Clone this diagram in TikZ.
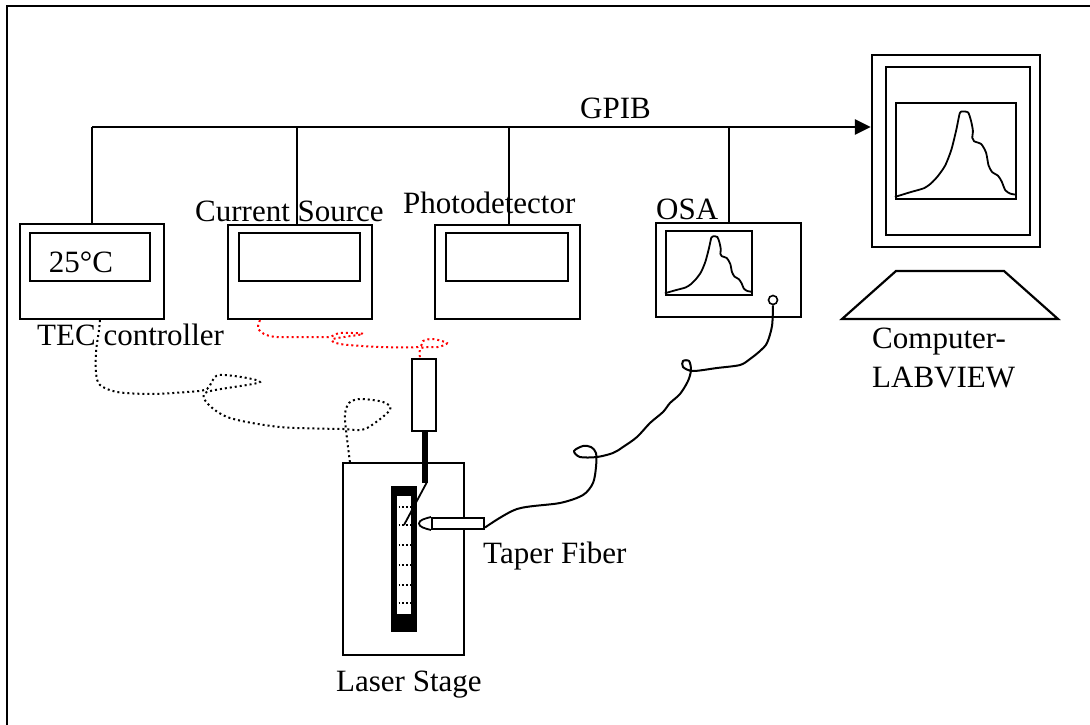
\documentclass[tikz,border=0pt]{standalone}
\usepackage{fontspec}
\setmainfont{Liberation Serif}
\usetikzlibrary{arrows.meta}
\begin{document}
\begin{tikzpicture}[x=1pt,y=-1pt,
  box/.style={draw,rectangle,line width=2.2pt,inner sep=0pt,fill=white},
  lbl/.style={inner sep=0pt,font=\fontsize{31}{37}\selectfont},
  bus/.style={line width=2.8pt},
  drop/.style={line width=1.8pt},
  cable/.style={line width=2pt,line join=round},
  tecwire/.style={line width=2pt,dash pattern=on 2pt off 3pt},
  ldwire/.style={tecwire,red},
  trace/.style={line width=1.8pt,line join=round}]

\useasboundingbox (0,0) rectangle (1090,725);
\clip (0,0) rectangle (1090,725);
\draw[line width=2.2pt] (7,6) rectangle (1110,745);

% instruments on the bench
\node[box,minimum width=144,minimum height=95] (tec) at (92,271.5) {};
\node[box,minimum width=120,minimum height=48] (tecscr) at (90,257) {};
\node[lbl,anchor=base] (tecval) at (81,272) {25°C};
\node[lbl,anchor=base west] (teclbl) at (37,345) {TEC controller};

\node[box,minimum width=144,minimum height=94] (cs) at (300,272) {};
\node[box,minimum width=121,minimum height=48] (csscr) at (299.5,257) {};
\node[lbl,anchor=base west] (cslbl) at (195,221) {Current Source};

\node[box,minimum width=145,minimum height=94] (pd) at (507.5,272) {};
\node[box,minimum width=122,minimum height=48] (pdscr) at (507,257) {};
\node[lbl,anchor=base west] (pdlbl) at (403,213) {Photodetector};

\node[box,minimum width=145,minimum height=94] (osa) at (728.5,270) {};
\node[box,minimum width=86,minimum height=64] (osascr) at (709,263) {};
\node[circle,draw,line width=1.6pt,fill=white,inner sep=0pt,minimum size=9] (knob) at (773,300) {};
\node[lbl,anchor=base west] (osalbl) at (656,219) {OSA};

% computer
\node[box,minimum width=168,minimum height=192] (pc) at (956,151) {};
\node[box,minimum width=144,minimum height=168] (pcframe) at (958,151) {};
\node[box,minimum width=120,minimum height=96] (pcscr) at (956,151) {};
\draw[line width=2.2pt,line join=miter] (896,271) -- (1004,271) -- (1058,319) -- (842,319) -- cycle;
\node[lbl,anchor=base west] (pclbl1) at (872,348) {Computer-};
\node[lbl,anchor=base west] (pclbl2) at (872,387) {LABVIEW};

% spectra on the two screens
\foreach \scr/\w/\h in {pcscr/120/96, osascr/86/64}{
  \begin{scope}[shift={(\scr.north west)},xscale=\w,yscale=\h]
    \draw[trace] plot[smooth,tension=0.4] coordinates {
      (0,0.99) (0.13,0.94) (0.24,0.90) (0.30,0.85) (0.36,0.77)
      (0.42,0.66) (0.47,0.50) (0.51,0.30) (0.54,0.12) (0.56,0.10)
      (0.61,0.11) (0.635,0.20) (0.65,0.30) (0.645,0.375) (0.66,0.41)
      (0.72,0.44) (0.76,0.53) (0.78,0.66) (0.81,0.73) (0.86,0.77)
      (0.89,0.83) (0.92,0.92) (0.96,0.955) (1.0,0.965)};
  \end{scope}
}

% GPIB bus
\coordinate (busL) at (92,127);
\draw[bus,-{Triangle[length=16pt,width=15pt]}] (busL) -- (pc.west |- busL);
\node[lbl,anchor=base west] (gpib) at (580,118) {GPIB};
\draw[drop] (tec.north) -- (tec.north |- busL);
\draw[drop] ([xshift=-3]cs.north) -- ([xshift=-3]cs.north |- busL);
\draw[drop] ([xshift=1.5]pd.north) -- ([xshift=1.5]pd.north |- busL);
\draw[drop] ([xshift=0.5]osa.north) -- ([xshift=0.5]osa.north |- busL);

% laser stage
\node[draw,line width=2.2pt,inner sep=0pt,minimum width=121,minimum height=192] (stage) at (403.5,559) {};
\node[lbl,anchor=base west] (stagelbl) at (336,691) {Laser Stage};
\node[box,minimum width=24,minimum height=72] (mount) at (424,395) {};
\fill ([xshift=-2]mount.south) rectangle ++(6,51);
\fill (391,486) rectangle (417,632);
\fill[white] (397,496) rectangle (411,614);
\foreach \yy in {507,525,545,565,585,603}
  \draw[line width=1.5pt,dash pattern=on 1.5pt off 2.4pt] (398.5,\yy) -- (411,\yy);
\draw[line width=1.8pt] (427,482) -- (404,525);

% taper fibre
\node[box,line width=2pt,minimum width=52,minimum height=11] (taper) at (458,523.5) {};
\draw[line width=1.8pt] (taper.north west) .. controls (425,518.5) and (419,520) .. (419,523.5)
  .. controls (419,527) and (425,528.5) .. (taper.south west);
\node[lbl,anchor=base west] (taperlbl) at (483,563) {Taper Fiber};

% fibre to the OSA
\draw[cable] plot[smooth,tension=0.5] coordinates {
  ([yshift=-4]taper.east) (517,509) (560,503) (583,495) (593,483) (596,467)
  (596,453) (591,447) (583,446) (574,451) (580,457) (597,457) (613,453)
  (623,447) (637,437) (650,423) (663,412) (670,403) (680,394) (688,381)
  (691,370) (689,361) (683,361) (683,367) (693,371) (717,368) (740,365)
  (750,359) (760,351) (767,343) (772,326) (knob.south)};

% TEC wire to the stage
\draw[tecwire] plot[smooth,tension=0.5] coordinates {
  ([xshift=8]tec.south) (99,330) (96,352) (96,373) (100,385) (117,392)
  (150,394) (187,392) (207,389) (219,375) (260,382) (207,392) (208,404)
  (230,418) (280,427) (343,429) (365,429) (390,410) (383,402) (360,399)
  (349,403) (345,414) (346,430) ([xshift=8]stage.north west)};

% drive current wire to the laser mount
\draw[ldwire] plot[smooth,tension=0.5] coordinates {
  ([xshift=-40]cs.south) (258,328) (264,334) (277,337) (313,337) (330,337)
  (340,333) (363,334) (333,339) (340,344) (380,347) (418,347) (423,341)
  (433,339) (447,343) (438,347) (421,348) ([xshift=-4]mount.north)};

\end{tikzpicture}
\end{document}
